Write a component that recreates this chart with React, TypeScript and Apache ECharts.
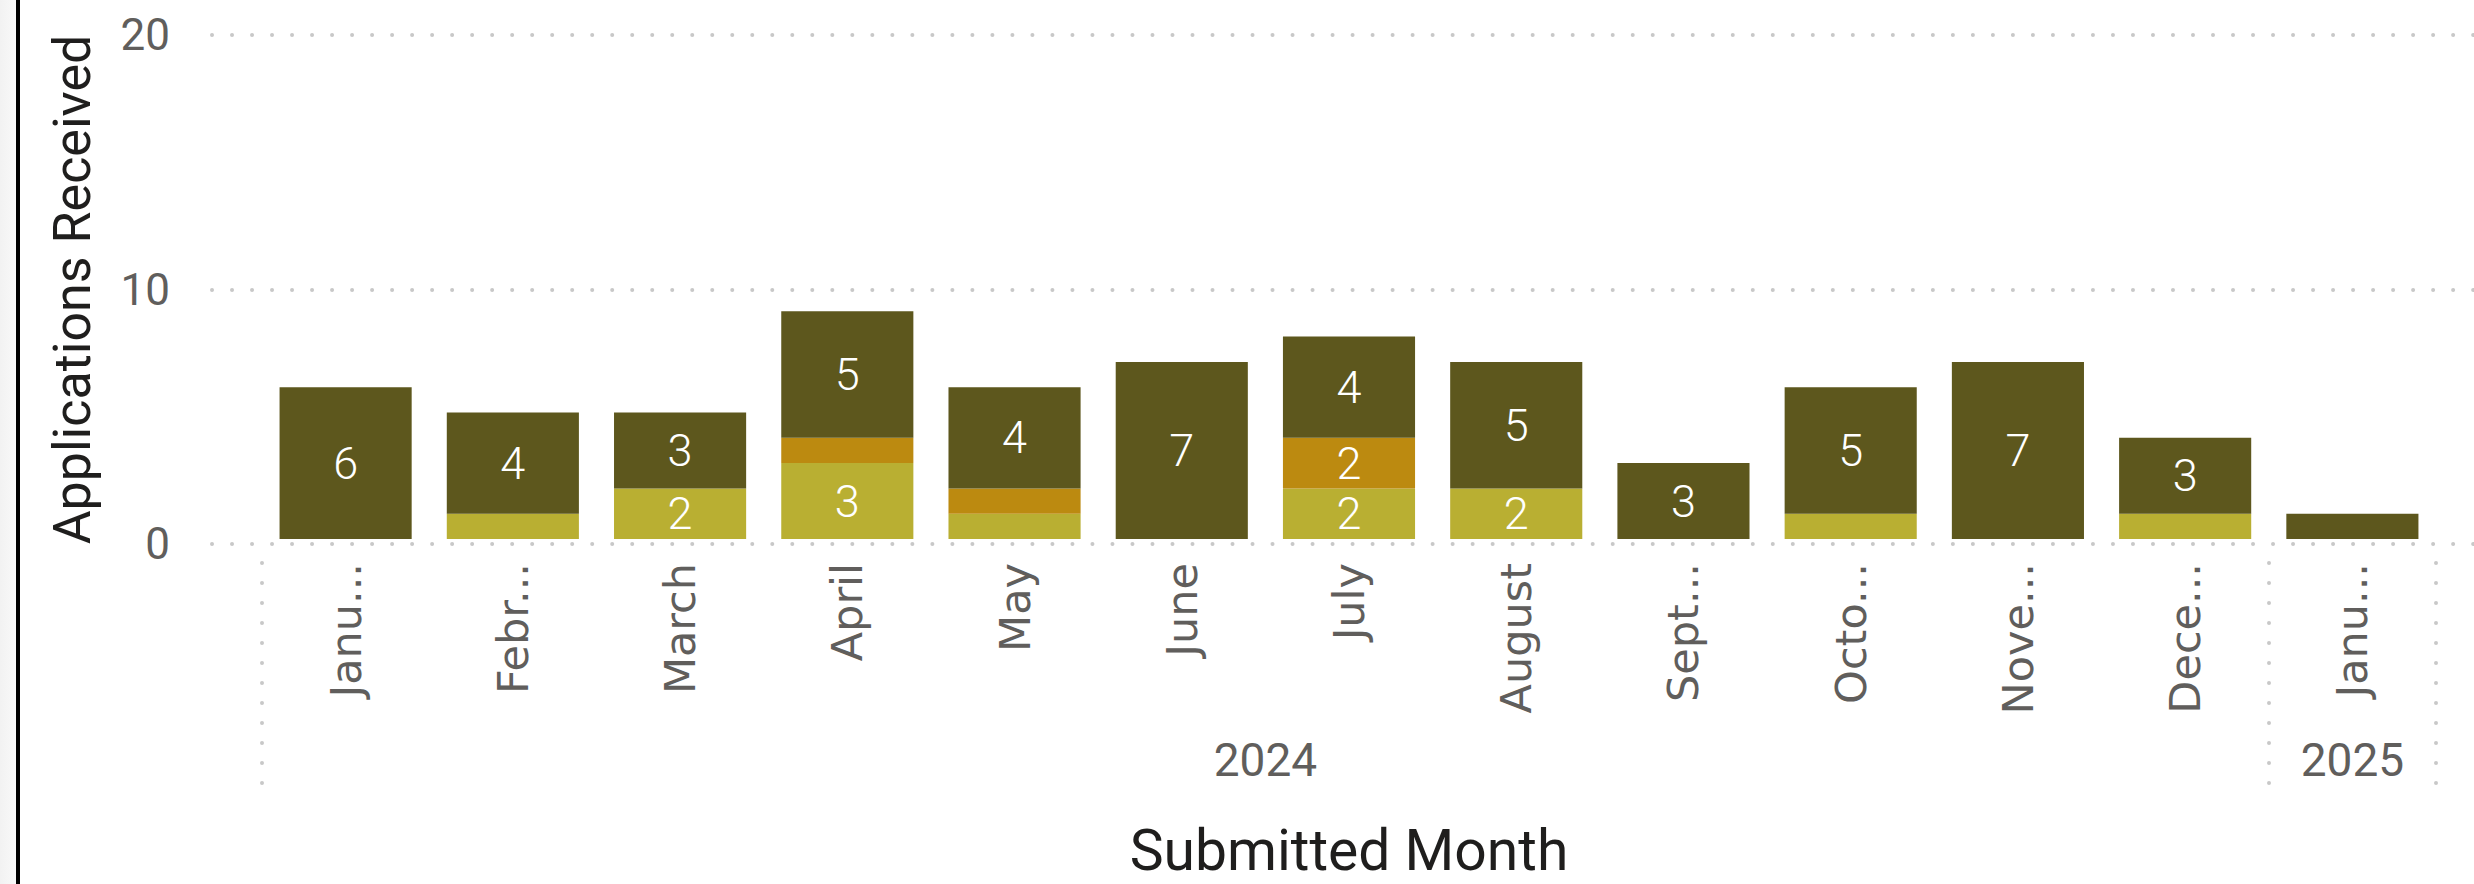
import React, { useEffect, useRef } from "react";
import * as echarts from "echarts";

// ---- data ----
const monthLabels = [
  "Janu...", "Febr...", "March", "April", "May", "June", "July",
  "August", "Sept...", "Octo...", "Nove...", "Dece...", "Janu...",
];
const years = ["2024", "2025"];
const monthsPerYear = [12, 1];
const lightSeries = [0, 1, 2, 3, 1, 0, 2, 2, 0, 1, 0, 1, 0];
const orangeSeries = [0, 0, 0, 1, 1, 0, 2, 0, 0, 0, 0, 0, 0];
const darkSeries = [6, 4, 3, 5, 4, 7, 4, 5, 3, 5, 7, 3, 1];
const yMin = 0;
const yMax = 20;
const yInterval = 10;

const yearBounds: number[] = [0];
monthsPerYear.forEach((n) => yearBounds.push(yearBounds[yearBounds.length - 1] + n));
const yearCenters = years.map((_, i) => (yearBounds[i] + yearBounds[i + 1]) / 2);

const DOT = { color: "#C8C8C8", width: 4, type: [0.01, 20] as number[], cap: "round" as const };
const NUM_FONT = "Roboto, 'Noto Sans', sans-serif";

const labelCfg = {
  show: true,
  position: "inside" as const,
  color: "#ffffff",
  fontSize: 45,
  fontFamily: NUM_FONT,
  fontWeight: 300 as any,
  formatter: (p: any) => (p.value >= 2 ? String(p.value) : ""),
};

export default function App() {
  const ref = useRef<HTMLDivElement>(null);
  useEffect(() => {
    if (!ref.current) return;
    const chart = echarts.init(ref.current, null, { renderer: "svg" });
    const option: any = {
      animation: false,
      backgroundColor: "#ffffff",
      textStyle: { fontFamily: NUM_FONT },
      graphic: [
        {
          type: "rect",
          shape: { x: 0, y: 0, width: 16, height: 884 },
          style: {
            fill: new echarts.graphic.LinearGradient(0, 0, 1, 0, [
              { offset: 0, color: "#F2F2F2" },
              { offset: 1, color: "#F9F9F9" },
            ]),
          },
        },
        { type: "rect", shape: { x: 16, y: 0, width: 4, height: 884 }, style: { fill: "#000000" } },
      ],
      grid: [
        { left: 212, right: 0, top: 35, height: 509 },
        { left: 262, right: 38, top: 33, height: 509 },
      ],
      xAxis: [
        { type: "value", gridIndex: 0, show: false, min: 0, max: 1 },
        {
          type: "category",
          gridIndex: 1,
          data: monthLabels,
          axisLine: { show: false },
          axisTick: { show: false },
          axisLabel: {
            rotate: 90,
            margin: 24,
            fontSize: 43,
            fontFamily: "'DejaVu Sans', Verdana, sans-serif",
            color: "#605E5C",
            interval: 0,
          },
          name: "Submitted Month",
          nameLocation: "middle",
          nameGap: 283,
          nameTextStyle: { fontSize: 57, color: "#1F1E1D", fontFamily: NUM_FONT },
        },
        {
          type: "value",
          gridIndex: 1,
          position: "bottom",
          offset: 24,
          min: 0,
          max: yearBounds[yearBounds.length - 1],
          axisLine: { show: false },
          splitLine: { show: false },
          axisTick: { show: true, customValues: yearBounds, length: 240, lineStyle: DOT },
          axisLabel: {
            customValues: yearCenters,
            margin: 174,
            fontSize: 46,
            color: "#605E5C",
            fontFamily: NUM_FONT,
            formatter: (v: number) => {
              const i = yearCenters.findIndex((c) => Math.abs(c - v) < 1e-6);
              return i >= 0 ? years[i] : "";
            },
          },
        },
      ],
      yAxis: [
        {
          type: "value",
          gridIndex: 0,
          min: yMin,
          max: yMax,
          interval: yInterval,
          axisLine: { show: false },
          axisTick: { show: false },
          splitLine: { show: true, lineStyle: DOT },
          axisLabel: { fontSize: 44, color: "#605E5C", margin: 42, fontFamily: NUM_FONT },
          name: "Applications Received",
          nameLocation: "middle",
          nameRotate: 90,
          nameGap: 114,
          nameTextStyle: { fontSize: 52, color: "#1F1E1D", fontFamily: NUM_FONT },
        },
        { type: "value", gridIndex: 1, min: yMin, max: yMax, interval: yInterval, show: false },
      ],
      series: [
        {
          name: "Group A",
          type: "bar",
          stack: "total",
          xAxisIndex: 1,
          yAxisIndex: 1,
          data: lightSeries,
          itemStyle: { color: "#B9AF32" },
          barCategoryGap: "21%",
          label: labelCfg,
        },
        {
          name: "Group B",
          type: "bar",
          stack: "total",
          xAxisIndex: 1,
          yAxisIndex: 1,
          data: orangeSeries,
          itemStyle: { color: "#BC8A10" },
          barCategoryGap: "21%",
          label: labelCfg,
        },
        {
          name: "Group C",
          type: "bar",
          stack: "total",
          xAxisIndex: 1,
          yAxisIndex: 1,
          data: darkSeries,
          itemStyle: { color: "#5D571D" },
          barCategoryGap: "21%",
          label: labelCfg,
        },
      ],
    };
    chart.setOption(option);
    return () => chart.dispose();
  }, []);
  return (
    <div
      ref={ref}
      style={{ position: "absolute", left: 0, top: 0, width: 2474, height: 884, background: "#ffffff" }}
    />
  );
}
